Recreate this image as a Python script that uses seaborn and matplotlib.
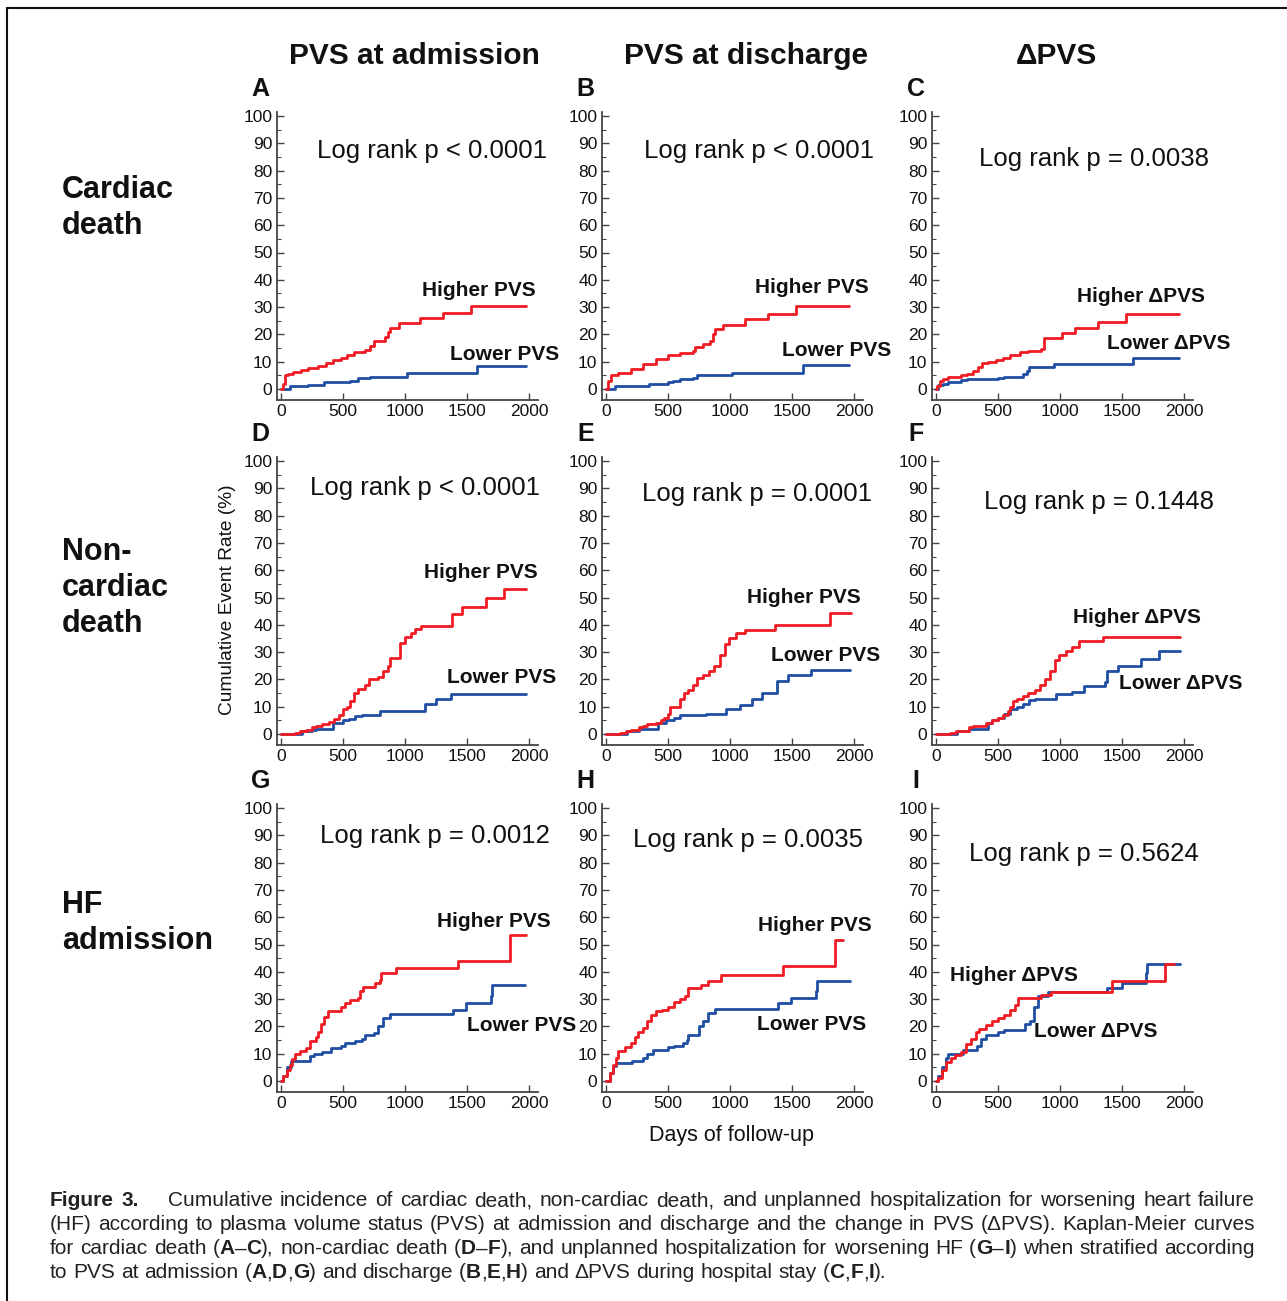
import re
import matplotlib
matplotlib.use("Agg")
import matplotlib.pyplot as plt
import matplotlib.font_manager as fm
from matplotlib.lines import Line2D
from matplotlib.ticker import MultipleLocator
import seaborn as sns
import pandas as pd


# -------------------- Data --------------------

# A: cardiac death, PVS at admission
a_hi_days = [0, 15, 30, 60, 100, 160, 220, 300, 360, 420, 480, 530, 590, 680, 720, 750, 840, 860, 880, 950, 1120, 1310, 1530, 1975]
a_hi_rate = [0, 2, 5, 5.5, 6.3, 7, 7.8, 8.5, 9.5, 10.5, 11.5, 12.5, 13.5, 14.3, 15.8, 17.5, 19, 21, 22.5, 24, 26, 28, 30.5, 30.5]
a_lo_days = [0, 60, 75, 220, 350, 560, 620, 720, 1020, 1580, 1975]
a_lo_rate = [0, 0, 1, 1.5, 2.5, 3, 4, 4.5, 6, 8.5, 8.5]

# B: cardiac death, PVS at discharge
b_hi_days = [0, 20, 40, 100, 200, 300, 400, 500, 600, 700, 720, 780, 840, 860, 880, 940, 1120, 1310, 1530, 1960]
b_hi_rate = [0, 3, 5, 6, 7.5, 9, 11, 12.3, 13.3, 14, 15.5, 16.5, 17.5, 20, 22, 23.5, 25.5, 27.5, 30.5, 30.5]
b_lo_days = [0, 60, 70, 350, 500, 540, 600, 700, 730, 1020, 1590, 1960]
b_lo_rate = [0, 0, 1, 2, 2.5, 3, 3.5, 4, 5, 6, 8.8, 8.8]

# C: cardiac death, delta PVS
c_hi_days = [0, 10, 30, 60, 100, 200, 250, 300, 340, 370, 420, 480, 540, 600, 680, 740, 850, 870, 1020, 1120, 1310, 1530, 1960]
c_hi_rate = [0, 1, 3, 3.5, 4.5, 5, 5.5, 6.5, 8, 9.5, 10, 10.7, 11.3, 12.5, 13.5, 14, 14.5, 18.5, 20.5, 22.5, 24.5, 27.5, 27.5]
c_lo_days = [0, 20, 60, 100, 200, 250, 500, 550, 700, 730, 750, 950, 1590, 1960]
c_lo_rate = [0, 1.5, 2, 2.5, 3.2, 3.5, 4.2, 4.5, 5.5, 6.5, 8, 9, 11.5, 11.5]

# D: non-cardiac death, PVS at admission
d_hi_days = [0, 100, 110, 150, 200, 250, 280, 330, 390, 430, 470, 500, 530, 560, 590, 620, 680, 710, 780, 820, 860, 880, 960, 1000, 1050, 1080, 1130, 1380, 1460, 1650, 1800, 1975]
d_hi_rate = [0, 0, 0.5, 1, 1.5, 2.5, 3, 3.5, 4.5, 5.5, 7, 9, 10, 12, 15, 16.5, 18, 20, 21, 23, 25, 28, 33.5, 35.5, 37, 38.5, 39.5, 44, 46.5, 50, 53, 53]
d_lo_days = [0, 150, 170, 250, 280, 420, 500, 550, 600, 650, 800, 1160, 1250, 1370, 1975]
d_lo_rate = [0, 0, 1, 1.5, 2, 4, 5, 5.5, 6.5, 7, 8.5, 11, 13, 14.5, 14.5]

# E: non-cardiac death, PVS at discharge
e_hi_days = [0, 100, 110, 160, 200, 270, 300, 330, 400, 440, 470, 500, 520, 600, 630, 660, 700, 730, 780, 830, 870, 920, 960, 990, 1050, 1120, 1360, 1810, 1975]
e_hi_rate = [0, 0, 0.5, 1, 1.5, 2.5, 3, 3.5, 4, 5, 6, 7.5, 10, 13, 15, 16, 18, 20.5, 21.5, 23, 25, 29, 33, 35, 37, 38, 40, 44.5, 44.5]
e_lo_days = [0, 150, 170, 270, 420, 480, 550, 600, 810, 970, 1080, 1180, 1260, 1380, 1470, 1650, 1970]
e_lo_rate = [0, 0, 1, 2, 4, 5, 6, 7, 7.5, 9, 10.5, 13, 15, 19.5, 21.5, 23.5, 23.5]

# F: non-cardiac death, delta PVS
f_hi_days = [0, 100, 110, 160, 270, 300, 400, 450, 500, 540, 580, 600, 620, 650, 700, 740, 800, 840, 880, 920, 960, 990, 1050, 1100, 1150, 1350, 1970]
f_hi_rate = [0, 0, 0.5, 1, 2.5, 3, 4, 5, 6, 7, 8.5, 10, 12, 13, 14, 15, 16, 18, 20, 23, 27, 29, 30.5, 32, 34, 35.5, 35.5]
f_lo_days = [0, 150, 170, 270, 420, 450, 500, 550, 600, 650, 700, 750, 800, 970, 1100, 1190, 1360, 1380, 1470, 1650, 1800, 1970]
f_lo_rate = [0, 0, 1, 2, 4, 5, 6, 7.5, 9, 10, 11, 12.5, 13, 14.5, 15.5, 17.5, 19, 23, 25, 27.5, 30.5, 30.5]

# G: HF admission, PVS at admission
g_hi_days = [0, 20, 50, 70, 90, 110, 150, 200, 230, 280, 300, 320, 350, 380, 480, 520, 560, 620, 640, 660, 760, 800, 810, 930, 1430, 1845, 1975]
g_hi_rate = [0, 2, 4, 6, 8, 10, 11, 12, 14.5, 16, 18, 21, 23.5, 25.5, 27, 28.5, 29.5, 30.5, 33, 34.5, 36, 37, 39.5, 41.5, 44, 53.5, 53.5]
g_lo_days = [0, 20, 50, 80, 230, 270, 330, 400, 480, 520, 600, 650, 680, 750, 780, 820, 880, 1390, 1490, 1690, 1700, 1970]
g_lo_rate = [0, 2, 5, 7.5, 9, 10, 10.5, 12, 13, 14, 14.5, 15.5, 17, 17.5, 20, 23, 24.5, 26, 28.5, 31, 35, 35]

# H: HF admission, PVS at discharge
h_hi_days = [0, 30, 60, 80, 100, 150, 200, 230, 260, 300, 330, 360, 400, 450, 500, 550, 600, 640, 660, 770, 820, 930, 1430, 1845, 1910]
h_hi_rate = [0, 3, 6, 8.5, 11, 12.5, 14, 16, 18, 19.5, 22, 24, 25.5, 26, 27, 29, 30, 31, 34, 35, 36.5, 39, 42, 51.5, 51.5]
h_lo_days = [0, 30, 60, 80, 210, 300, 330, 380, 500, 550, 620, 650, 660, 750, 780, 820, 880, 1390, 1490, 1690, 1700, 1970]
h_lo_rate = [0, 3, 5.5, 6.5, 7.5, 8.5, 10, 11.5, 12.5, 13, 14, 15, 17, 20, 22, 25, 26.5, 28.5, 30.5, 33, 36.5, 36.5]

# I: HF admission, delta PVS
i_hi_days = [0, 20, 50, 80, 120, 150, 200, 240, 280, 320, 350, 400, 450, 500, 550, 600, 640, 660, 850, 930, 1420, 1850, 1920]
i_hi_rate = [0, 1, 4, 7, 8.5, 9.5, 10.5, 13.5, 15.5, 18, 19, 20.5, 22, 23, 24, 26, 28, 30.5, 31.5, 32.5, 36.5, 43, 43]
i_lo_days = [0, 20, 50, 80, 100, 220, 330, 360, 400, 500, 550, 720, 760, 790, 820, 900, 1380, 1500, 1690, 1700, 1970]
i_lo_rate = [0, 2, 5, 8.5, 10, 11.5, 13, 15.5, 17, 18, 18.5, 21, 22, 27, 31, 32.5, 34, 36, 39.5, 43, 43]

p_texts = ["Log rank p < 0.0001", "Log rank p < 0.0001", "Log rank p = 0.0038",
           "Log rank p < 0.0001", "Log rank p = 0.0001", "Log rank p = 0.1448",
           "Log rank p = 0.0012", "Log rank p = 0.0035", "Log rank p = 0.5624"]
letters = ["A", "B", "C", "D", "E", "F", "G", "H", "I"]
col_titles = ["PVS at admission", "PVS at discharge", "\u0394PVS"]
row_titles = ["Cardiac\ndeath", "Non-\ncardiac\ndeath", "HF\nadmission"]
x_ticks = [0, 500, 1000, 1500, 2000]

# annotation positions in data units (days, %)
p_pos = [(1215, 87), (1237, 87), (1277, 84.3), (1158, 90), (1221, 88), (1317, 85),
         (1239, 89.8), (1149, 88.3), (1189, 83)]
hi_pos = [(1595, 36), (1663, 37), (1655, 34), (1611, 59), (1598, 50), (1622, 42.6),
          (1717, 58.4), (1687, 57), (627, 38.8)]
lo_pos = [(1806, 12.8), (1863, 14), (1880, 16.8), (1781, 20.6), (1775, 28.7), (1976, 18.4),
          (1943, 20.4), (1655, 20.8), (1285, 18.2)]

hi_series = [(a_hi_days, a_hi_rate), (b_hi_days, b_hi_rate), (c_hi_days, c_hi_rate),
             (d_hi_days, d_hi_rate), (e_hi_days, e_hi_rate), (f_hi_days, f_hi_rate),
             (g_hi_days, g_hi_rate), (h_hi_days, h_hi_rate), (i_hi_days, i_hi_rate)]
lo_series = [(a_lo_days, a_lo_rate), (b_lo_days, b_lo_rate), (c_lo_days, c_lo_rate),
             (d_lo_days, d_lo_rate), (e_lo_days, e_lo_rate), (f_lo_days, f_lo_rate),
             (g_lo_days, g_lo_rate), (h_lo_days, h_lo_rate), (i_lo_days, i_lo_rate)]

RED = "#f01c24"
BLUE = "#1f4ea3"
W, H = 1287, 1301

# -------------------- Style --------------------

sns.set_theme(style="ticks")
plt.rcParams["font.family"] = ["Liberation Sans", "DejaVu Sans"]
names = {f.name for f in fm.fontManager.ttflist}
cap_font = "Liberation Sans Narrow" if "Liberation Sans Narrow" in names else "Liberation Sans"

fig = plt.figure(figsize=(W / 100, H / 100), dpi=100)

# pixel position of day 0 / 0 % for each column / row
col_x0 = [281, 606, 936]
row_y0 = [389, 734, 1081]
xs, ys = 0.124, 2.73          # px per day, px per %
xlim = (-35, 2070)
ylim = (-4, 101.3)

for k in range(9):
    r, c = divmod(k, 3)
    left = col_x0[c] + xlim[0] * xs
    bottom = row_y0[r] - ylim[0] * ys
    w = (xlim[1] - xlim[0]) * xs
    h = (ylim[1] - ylim[0]) * ys
    ax = fig.add_axes([left / W, 1 - bottom / H, w / W, h / H])

    hd, hr = hi_series[k]
    ld, lr = lo_series[k]
    sns.lineplot(x=ld, y=lr, drawstyle="steps-post", color=BLUE, lw=2,
                 estimator=None, sort=False, ax=ax)
    sns.lineplot(x=hd, y=hr, drawstyle="steps-post", color=RED, lw=2,
                 estimator=None, sort=False, ax=ax)

    ax.set_xlim(*xlim)
    ax.set_ylim(*ylim)
    ax.set_xticks(x_ticks)
    ax.yaxis.set_major_locator(MultipleLocator(10))
    ax.yaxis.set_minor_locator(MultipleLocator(5))
    ax.tick_params(which="major", direction="in", length=5, width=1, labelsize=12.5,
                   pad=3, color="#444444", labelcolor="#111111")
    ax.tick_params(which="minor", direction="in", length=3, width=0.8, color="#444444")
    ax.set_xlabel("")
    ax.set_ylabel("")
    for s in ["top", "right"]:
        ax.spines[s].set_visible(False)
    for s in ["left", "bottom"]:
        ax.spines[s].set_color("#444444")
        ax.spines[s].set_linewidth(1.3)
    ax.set_facecolor("none")

    grp = "\u0394PVS" if c == 2 else "PVS"
    ax.text(*p_pos[k], p_texts[k], fontsize=18.5, ha="center", va="center", color="#111111")
    ax.text(*hi_pos[k], "Higher " + grp, fontsize=15, fontweight="bold", ha="center",
            va="center", color="#111111")
    ax.text(*lo_pos[k], "Lower " + grp, fontsize=15, fontweight="bold", ha="center",
            va="center", color="#111111")
    ax.annotate(letters[k], xy=(0, 1), xycoords="axes fraction", xytext=(-16, 23),
                textcoords="offset pixels", fontsize=18, fontweight="bold",
                ha="center", va="center", color="#111111")

# column / row headers
for c, t in enumerate(col_titles):
    fig.text([414, 746, 1056][c] / W, 1 - 56 / H, t, fontsize=21.5, fontweight="bold",
             ha="center", va="center", color="#111111")
for r, t in enumerate(row_titles):
    fig.text(62 / W, 1 - [208, 588, 923][r] / H, t, fontsize=22, fontweight="bold",
             ha="left", va="center", linespacing=1.24, color="#111111")

fig.text(228 / W, 1 - 600 / H, "Cumulative Event Rate (%)", rotation=90, fontsize=13.8,
         ha="center", va="center", color="#111111")
fig.text(732 / W, 1 - 1135 / H, "Days of follow-up", fontsize=15.5,
         ha="center", va="center", color="#111111")

# frame
fig.add_artist(Line2D([7 / W, 1], [1 - 8 / H, 1 - 8 / H], color="#111111", lw=1.5))
fig.add_artist(Line2D([7 / W, 7 / W], [0, 1 - 8 / H], color="#111111", lw=1.5))

# -------------------- Caption (justified) --------------------

cap_lines = [
    [("Figure 3.", True), ("    Cumulative incidence of cardiac death, non-cardiac death, and unplanned hospitalization for worsening heart failure", False)],
    [("(HF) according to plasma volume status (PVS) at admission and discharge and the change in PVS (\u0394PVS). Kaplan-Meier curves", False)],
    [("for cardiac death (", False), ("A", True), ("\u2013", False), ("C", True), ("), non-cardiac death (", False),
     ("D", True), ("\u2013", False), ("F", True), ("), and unplanned hospitalization for worsening HF (", False),
     ("G", True), ("\u2013", False), ("I", True), (") when stratified according", False)],
    [("to PVS at admission (", False), ("A", True), (",", False), ("D", True), (",", False), ("G", True),
     (") and discharge (", False), ("B", True), (",", False), ("E", True), (",", False), ("H", True),
     (") and \u0394PVS during hospital stay (", False), ("C", True), (",", False), ("F", True), (",", False),
     ("I", True), (").", False)],
]
renderer = fig.canvas.get_renderer()
cap_family = [cap_font, "DejaVu Sans"]


def seg_width(text, bold, size):
    t = fig.text(0, 0, text, fontsize=size, family=cap_family,
                 fontweight="bold" if bold else "normal")
    wpx = t.get_window_extent(renderer).width
    t.remove()
    return wpx


def split_words(line):
    words, gaps, cur, pending = [], [], [], 0
    for s, b in line:
        for tok in re.split(r"( +)", s):
            if not tok:
                continue
            if tok.startswith(" "):
                if cur:
                    words.append(cur)
                    cur = []
                pending += len(tok)
            else:
                if not cur and words:
                    gaps.append(pending)
                    pending = 0
                cur.append((tok, b))
    if cur:
        words.append(cur)
    return words, gaps


cap_left, cap_right = 50, 1255
base = 10
space10 = seg_width("a a", False, base) - seg_width("aa", False, base)
parsed = [split_words(line) for line in cap_lines]
natural = []
for words, gaps in parsed:
    ww = sum(seg_width(t, b, base) for wd in words for t, b in wd)
    natural.append(ww + space10 * sum(gaps))
cap_size = base * (cap_right - cap_left) / max(natural)
space = space10 * cap_size / base

for i, (words, gaps) in enumerate(parsed):
    widths = [sum(seg_width(t, b, cap_size) for t, b in wd) for wd in words]
    if i < len(parsed) - 1:
        unit = (cap_right - cap_left - sum(widths)) / sum(gaps)
    else:
        unit = space
    x = cap_left
    y = 1201 + i * 24
    for j, wd in enumerate(words):
        xx = x
        for t, b in wd:
            fig.text(xx / W, 1 - y / H, t, fontsize=cap_size, family=cap_family,
                     fontweight="bold" if b else "normal", ha="left", va="center",
                     color="#222222")
            xx += seg_width(t, b, cap_size)
        x += widths[j]
        if j < len(gaps):
            x += gaps[j] * unit

fig.savefig("out.png", dpi=100)
